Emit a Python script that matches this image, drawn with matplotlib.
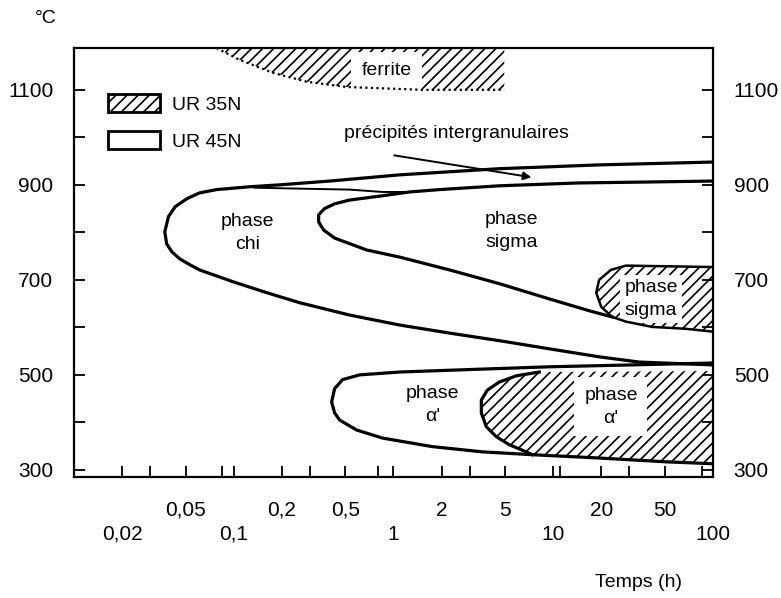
import matplotlib
matplotlib.use("Agg")
import matplotlib.pyplot as plt
from matplotlib.patches import Patch
from matplotlib.ticker import FixedLocator, NullFormatter

plt.rcParams["font.family"] = ["Liberation Sans", "DejaVu Sans"]
plt.rcParams["font.size"] = 14
plt.rcParams["hatch.linewidth"] = 1.2

# --- UR 45N domains (outlined) : time in h, temperature in degC ---
# phase chi / precipitates: upper branch from 100 h, round the nose, lower branch back
chi_t = [100, 19.4, 4.6, 1.09, 0.40, 0.194, 0.126, 0.078, 0.061, 0.051, 0.043, 0.039, 0.037,
         0.038, 0.041, 0.046, 0.053, 0.061, 0.099, 0.161, 0.258, 0.53, 1.09, 2.24, 4.6, 9.4,
         19.4, 34.5, 100]
chi_T = [948, 942, 934, 921, 908, 900, 896, 890, 883, 871, 854, 833, 801,
         776, 759, 744, 732, 721, 696, 673, 652, 626, 605, 588, 572, 555, 538, 527, 521]

# lower limit of the intergranular precipitates band
precip_t = [0.135, 0.258, 0.531, 0.854, 1.26]
precip_T = [894, 892, 890, 885, 885]

# phase sigma
sigma_t = [100, 39.8, 14.5, 4.6, 1.94, 1.26, 0.854, 0.531, 0.428, 0.370, 0.340, 0.340, 0.365,
           0.428, 0.678, 1.09, 2.24, 4.6, 9.44, 16.8, 23.4]
sigma_T = [908, 906, 904, 898, 890, 885, 877, 868, 860, 850, 837, 822, 805,
           788, 763, 748, 721, 692, 660, 635, 622]

# phase alpha'
alpha_t = [100, 31.2, 9.44, 2.86, 1.09, 0.613, 0.480, 0.428, 0.410, 0.428, 0.460, 0.587, 0.854,
           1.75, 3.60, 7.39, 19.4, 50.8, 100]
alpha_T = [525, 521, 517, 511, 506, 500, 490, 471, 443, 420, 405, 384, 367,
           349, 338, 332, 325, 317, 313]

# --- UR 35N domains (hatched) ---
ferrite_t = [0.078, 0.109, 0.175, 0.286, 0.508, 1.52, 4.94, 4.94]
ferrite_T = [1188, 1163, 1136, 1117, 1106, 1100, 1100, 1188]

sig35_t = [100, 28.6, 23.0, 19.4, 18.6, 20.0, 23.4, 28.6, 41.6, 67.8, 100]
sig35_T = [727, 730, 721, 700, 673, 643, 622, 612, 601, 597, 591]

alpha35_t = [100, 8.18, 5.87, 4.60, 3.87, 3.55, 3.55, 3.81, 4.40, 5.31, 6.78, 7.39, 19.4, 50.8, 100]
alpha35_T = [508, 506, 498, 485, 468, 447, 420, 391, 370, 353, 338, 332, 325, 317, 313]

# axis ticks
t_upper = [0.05, 0.2, 0.5, 2, 5, 20, 50]
t_upper_lbl = ["0,05", "0,2", "0,5", "2", "5", "20", "50"]
t_lower = [0.02, 0.1, 1, 10, 100]
t_lower_lbl = ["0,02", "0,1", "1", "10", "100"]
t_minor = [0.03, 0.085, 0.3, 0.8, 3, 11, 30, 85]
T_major = [300, 500, 700, 900, 1100]
T_minor = [400, 600, 800, 1000]

fig = plt.figure(figsize=(7.81, 5.98), dpi=100)
ax = fig.add_axes([0.0948, 0.2023, 0.818, 0.7174])
ax.set_xscale("log")
ax.set_xlim(0.01, 100)
ax.set_ylim(285, 1188)

LW = 2.3

# hatched areas
ax.fill(ferrite_t, ferrite_T, facecolor="white", hatch="///", linewidth=0, zorder=1)
ax.plot(ferrite_t[:7], ferrite_T[:7], color="black", lw=1.6, ls=(0, (1, 1.5)), zorder=4)

ax.fill(sig35_t, sig35_T, facecolor="white", hatch="///", linewidth=0, zorder=1)
ax.plot(sig35_t, sig35_T, color="black", lw=1.8, zorder=4)

ax.fill(alpha35_t, alpha35_T, facecolor="white", hatch="///", linewidth=0, zorder=1)
ax.plot(alpha35_t[1:12], alpha35_T[1:12], color="black", lw=LW, zorder=4)

# outlined areas
ax.plot(chi_t, chi_T, color="black", lw=LW, zorder=4)
ax.plot(precip_t, precip_T, color="black", lw=1.4, zorder=4)
ax.plot(sigma_t, sigma_T, color="black", lw=LW, zorder=4)
ax.plot(alpha_t, alpha_T, color="black", lw=LW, zorder=4)

# labels
ax.text(0.122, 799, "phase\nchi", ha="center", va="center", linespacing=1.5, zorder=3)
ax.text(5.46, 803, "phase\nsigma", ha="center", va="center", linespacing=1.5, zorder=3)
ax.text(41.0, 660, "phase\nsigma", ha="center", va="center", linespacing=1.45, zorder=3,
        bbox=dict(boxstyle="square,pad=0.2", facecolor="white", edgecolor="none"))
ax.text(1.75, 437, "phase\nα'", ha="center", va="center", linespacing=1.45, zorder=3)
ax.text(23.0, 433, "phase\nα'", ha="center", va="center", linespacing=1.45, zorder=3,
        bbox=dict(boxstyle="square,pad=0.5", facecolor="white", edgecolor="none"))
ax.text(0.904, 1140, "ferrite", ha="center", va="center", zorder=3,
        bbox=dict(boxstyle="square,pad=0.55", facecolor="white", edgecolor="none"))
ax.text(2.48, 1009, "précipités intergranulaires", ha="center", va="center", zorder=3)
ax.annotate("", xy=(7.61, 915), xytext=(0.972, 963),
            arrowprops=dict(arrowstyle="-|>", color="black", lw=1.4, mutation_scale=12),
            zorder=5)

# legend
handles = [Patch(facecolor="white", edgecolor="black", hatch="///", linewidth=2, label="UR 35N"),
           Patch(facecolor="white", edgecolor="black", linewidth=2, label="UR 45N")]
ax.legend(handles=handles, loc="upper left", bbox_to_anchor=(0.053, 0.893), frameon=False,
          handlelength=2.7, handleheight=1.05, handletextpad=0.6, labelspacing=0.9,
          borderpad=0, borderaxespad=0)

# axes, ticks
for s in ax.spines.values():
    s.set_linewidth(1.6)

xt = t_upper + t_lower
xl = t_upper_lbl + ["\n" + s for s in t_lower_lbl]
ax.xaxis.set_major_locator(FixedLocator(xt))
ax.set_xticklabels(xl)
ax.xaxis.set_minor_locator(FixedLocator(t_minor))
ax.xaxis.set_minor_formatter(NullFormatter())
for lbl in ax.get_xticklabels():
    lbl.set_linespacing(1.35)

ax.yaxis.set_major_locator(FixedLocator(T_major))
ax.yaxis.set_minor_locator(FixedLocator(T_minor))
ax.tick_params(axis="both", which="both", direction="in", length=8, width=1.3, labelsize=15)
ax.tick_params(axis="y", which="both", right=True, labelright=True, pad=15)
ax.tick_params(axis="x", which="both", pad=17)

ax.text(-0.045, 1.068, "°C", transform=ax.transAxes, ha="center", va="center")
ax.text(0.883, -0.247, "Temps (h)", transform=ax.transAxes, ha="center", va="center")

fig.savefig("out.png", dpi=100)
